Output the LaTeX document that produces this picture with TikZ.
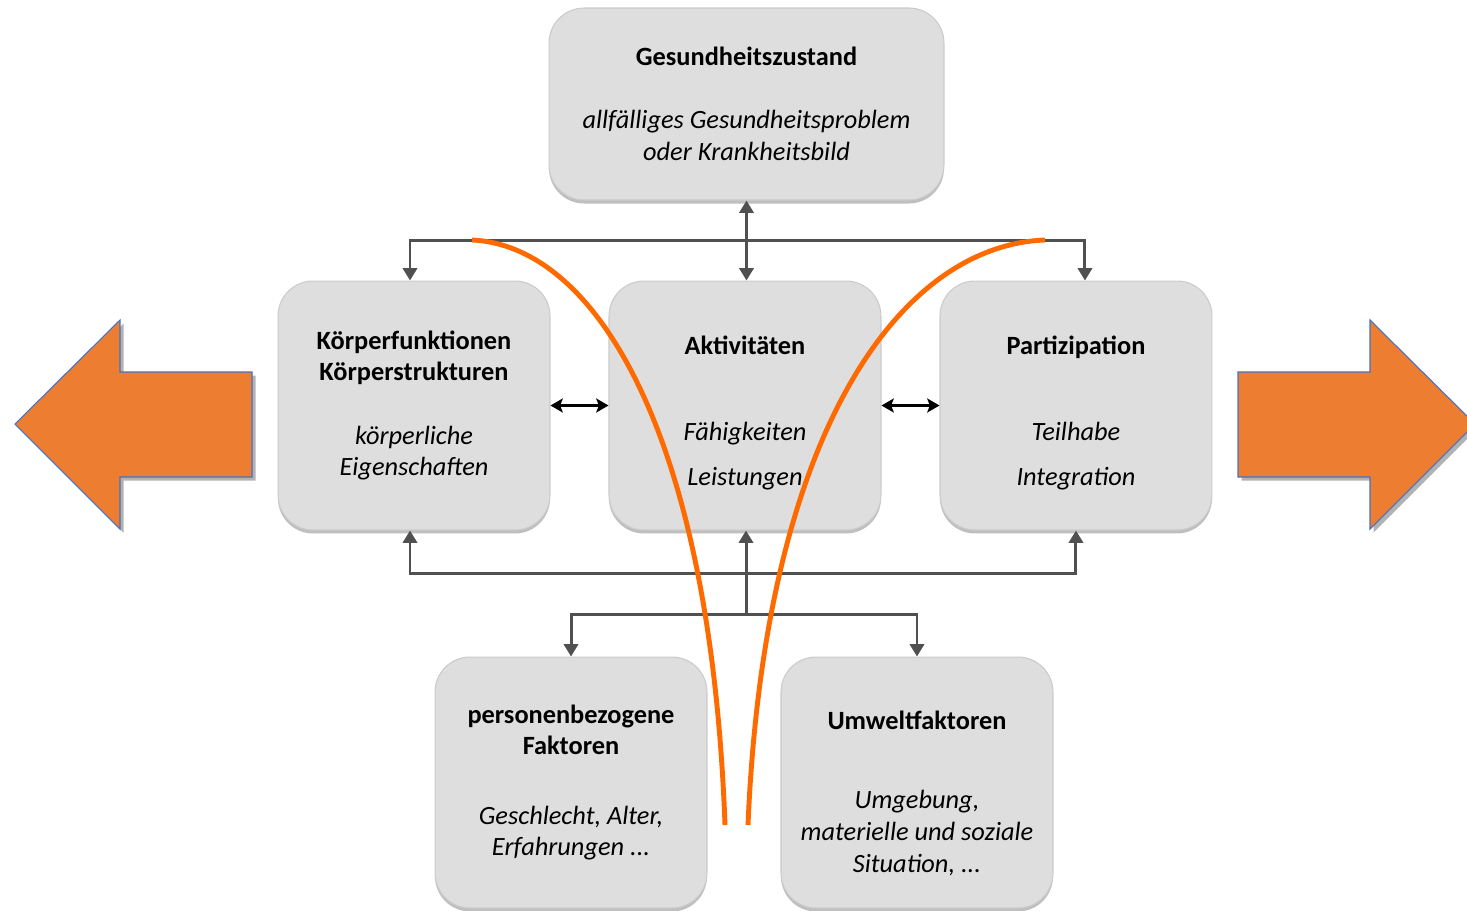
\documentclass[tikz,border=0pt]{standalone}
\usepackage{fontspec}
\setmainfont{Carlito}
\usepackage{xcolor}
\usepackage{tikz}
\usetikzlibrary{positioning,arrows.meta,shadows}
\definecolor{boxgray}{HTML}{DEDEDE}
\definecolor{boxline}{HTML}{CBCBCB}
\definecolor{conngray}{HTML}{505050}
\definecolor{curveorange}{HTML}{FF6A00}
\definecolor{arroworange}{HTML}{ED7D31}
\definecolor{arrowblue}{HTML}{4472C4}
\tikzset{
box/.style={
draw=boxline,
fill=boxgray,
rounded corners=0.7cm,
line width=0.6pt,
minimum width=5.44cm,
minimum height=4.98cm,
align=center,
inner sep=0pt,
font=\fontsize{15}{18}\selectfont,
drop shadow={shadow xshift=0pt,shadow yshift=-2pt,opacity=0.25,fill=black}
},
conn/.style={
>={Triangle[length=7pt,width=8pt]},
line width=1.7pt,
draw=conngray
},
link/.style={
>={Stealth[length=7pt,width=8pt,inset=1.5pt]},
<->,
line width=1.2pt
},
curve/.style={
draw=curveorange,
line width=2.8pt
},
bigarrow/.style={
fill=arroworange,
draw=arrowblue,
line width=0.6pt,
drop shadow={shadow xshift=2pt,shadow yshift=-2pt,opacity=0.3,fill=black}
}
}

\begin{document}
\begin{tikzpicture}[x=0.02cm,y=-0.02cm]
\useasboundingbox (0,0) rectangle (1467,910);

% the three boxes in the middle row
\node[box](kf) at (414,405.5){\textbf{Körperfunktionen}\\\textbf{Körperstrukturen}\\[18pt]\textit{körperliche}\\\textit{Eigenschaften}};

\node[box,right=1.16cm of kf](akt){\rule{0pt}{19pt}\textbf{Aktivitäten}\\[31pt]\textit{Fähigkeiten}\\[8pt]\textit{Leistungen}};

\node[box,right=1.16cm of akt](part){\rule{0pt}{19pt}\textbf{Partizipation}\\[31pt]\textit{Teilhabe}\\[8pt]\textit{Integration}};

\node[box,minimum width=7.9cm,minimum height=3.84cm](gz) at (746.5,104){\textbf{Gesundheitszustand}\\[18pt]\textit{allfälliges Gesundheitsproblem}\\\textit{oder Krankheitsbild}};

% context factors
\node[box,minimum height=5.02cm](pf) at (571,782.5){\textbf{personenbezogene}\\\textbf{Faktoren}\\[21.5pt]\textit{Geschlecht, Alter,}\\\textit{Erfahrungen ...}};

\node[box,minimum height=5.02cm,right=1.46cm of pf](uf){\rule{0pt}{23pt}\textbf{Umweltfaktoren}\\[27pt]\textit{Umgebung,}\\\textit{materielle und soziale}\\\textit{Situation, ...}};

% big side arrows
\draw[bigarrow](15,424)--(120,320)--(120,372)--(252,372)--(252,477)--(120,477)--(120,529)--cycle;
\draw[bigarrow](1238,372)--(1370,372)--(1370,320)--(1475,424)--(1370,529)--(1370,477)--(1238,477)--cycle;

% connectors
\coordinate(jt) at (746,240);
\coordinate(jb) at (746,614);

\draw[conn,<->](gz.south)--(gz.south|-akt.north);
\draw[conn,->](jt)-|([xshift=-0.08cm]kf.north);
\draw[conn,->](jt)-|([xshift=0.18cm]part.north);

\draw[conn,<->]([xshift=-0.08cm]kf.south)--++(0,43)-|(part.south);
\draw[conn,->](jb)--(jb|-akt.south);
\draw[conn,->](jb)-|(pf.north);
\draw[conn,->](jb)-|(uf.north);

\draw[link](kf.east)--(akt.west);
\draw[link](akt.east)--(part.west);

% orange curves
\draw[curve](472,240) .. controls (590,245) and (710,420) .. (725,825);
\draw[curve](1045,240) .. controls (906,245) and (765,420) .. (748,825);

\end{tikzpicture}
\end{document}
